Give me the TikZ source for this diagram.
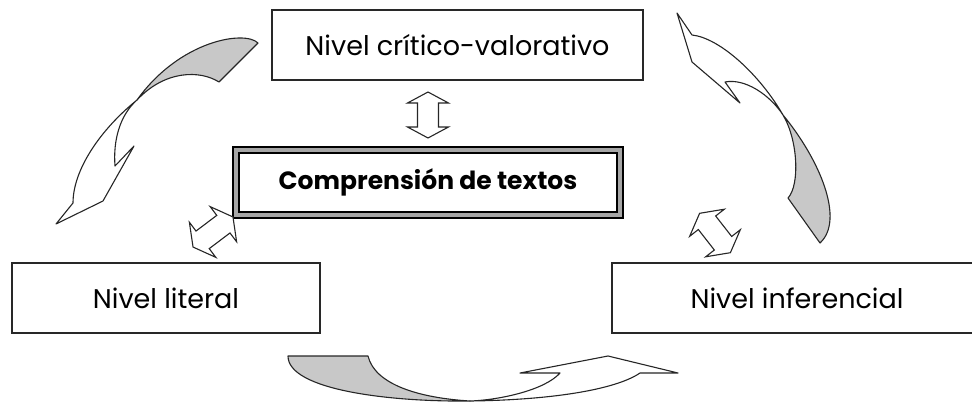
\documentclass[tikz,border=0pt]{standalone}
\usepackage{fontspec}
\setmainfont{Poppins}
\definecolor{ribgray}{RGB}{200,200,200}
\definecolor{linegray}{RGB}{40,40,40}
\newcommand\dblarr[6]{%
  \begin{scope}[shift={#1}, rotate=#2]
    \draw[dblstyle] ({#3/2},0) -- ({#3/2-#6},{#4/2}) -- ({#3/2-#6},{#5/2})
      -- ({-#3/2+#6},{#5/2}) -- ({-#3/2+#6},{#4/2}) -- ({-#3/2},0)
      -- ({-#3/2+#6},{-#4/2}) -- ({-#3/2+#6},{-#5/2}) -- ({#3/2-#6},{-#5/2})
      -- ({#3/2-#6},{-#4/2}) -- cycle;
  \end{scope}}
\begin{document}
\begin{tikzpicture}[x=1pt,y=-1pt,
  lvlbox/.style={draw=linegray, line width=1.7pt, fill=white, minimum height=70pt,
    inner sep=0pt, font=\fontsize{27}{32}\selectfont},
  ribbon/.style={draw=black!85, line width=1.1pt, line join=round},
  dblstyle/.style={draw=black!85, line width=1.1pt, fill=white, line join=miter}]
\useasboundingbox (0,0) rectangle (972,404);
\clip (0,0) rectangle (972,404);

% level boxes
\node[lvlbox, minimum width=371pt] (critico) at (457.5,45) {Nivel crítico-valorativo};
\node[lvlbox, minimum width=308pt] (literal) at (166,298) {Nivel literal};
\node[lvlbox, minimum width=370pt] (inferencial) at (797,298) {Nivel inferencial};

% central double-framed box
\node[draw=black, line width=1.8pt, fill=black!35, minimum width=390pt, minimum height=71pt,
  inner sep=0pt] (centro) at (428,182.5) {};
\node[draw=black, line width=1.3pt, fill=white, minimum width=378pt, minimum height=59pt,
  inner sep=0pt, font=\fontsize{25}{30}\selectfont\bfseries] (centrotxt) at (centro.center)
  {Comprensión de textos};

% double arrows between levels and the centre
\coordinate (dtop) at (428,115);
\coordinate (dleft) at (213,232);
\coordinate (dright) at (715,233);
\dblarr{(dtop)}{90}{46}{41}{21}{11}
\dblarr{(dleft)}{37}{50}{44}{22}{12}
\dblarr{(dright)}{-52}{50}{44}{22}{12}

% left curved arrow (critico -> literal)
\draw[ribbon, fill=ribgray] (258,43) .. controls (245,30) and (180,40) .. (137,100)
  .. controls (165,70) and (200,70) .. (219,82) -- cycle;
\draw[ribbon, fill=white] (137,100) .. controls (100,130) and (73,170) .. (73,203)
  -- (56,224) -- (103,201) -- (134,146) -- (115,166)
  .. controls (113,140) and (120,115) .. (137,100) -- cycle;

% right curved arrow (inferencial -> critico)
\draw[ribbon, fill=ribgray] (783,115) .. controls (820,160) and (845,220) .. (820,243)
  -- (788,198) .. controls (800,185) and (798,140) .. (783,115) -- cycle;
\draw[ribbon, fill=white] (783,115) .. controls (760,75) and (720,38) .. (692,35)
  -- (677,13) -- (692,62) -- (740,103) -- (725,82)
  .. controls (745,78) and (770,95) .. (783,115) -- cycle;

% bottom curved arrow (literal -> inferencial)
\draw[ribbon, fill=ribgray] (288,356) .. controls (288,390) and (390,402) .. (470,401)
  .. controls (420,398) and (375,385) .. (368,356) -- cycle;
\draw[ribbon, fill=white] (470,401) .. controls (550,400) and (615,390) .. (640,373)
  -- (678,373) -- (608,356) -- (520,373) -- (560,373)
  .. controls (545,390) and (500,400) .. (470,401) -- cycle;
\end{tikzpicture}
\end{document}
